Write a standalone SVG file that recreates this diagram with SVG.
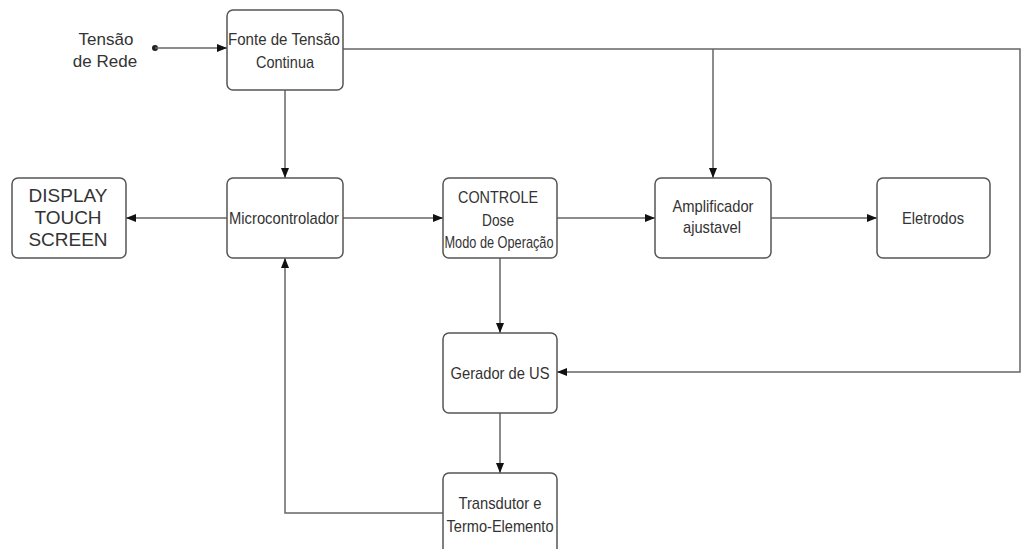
<svg xmlns="http://www.w3.org/2000/svg" width="1022" height="549" viewBox="0 0 1022 549">
<defs>
<marker id="arr" viewBox="0 0 10 10" refX="10" refY="5" markerWidth="10" markerHeight="10" markerUnits="userSpaceOnUse" orient="auto">
<path d="M0,1 L10,5 L0,9 Z" fill="#111"/>
</marker>
</defs>
<style>
.box{fill:#fff;stroke:#555;stroke-width:1.5}
.t{font-family:"Liberation Sans",Arial,sans-serif;font-size:17px;fill:#333;text-anchor:middle}
.big{font-size:19px}
.mid{font-size:17px}
.ln{fill:none;stroke:#666;stroke-width:1.5}
</style>
<rect width="1022" height="549" fill="#fff"/>
<g id="connectors">
<circle cx="155" cy="48" r="3" fill="#222"/>
<line class="ln" x1="155" y1="48" x2="227" y2="48" marker-end="url(#arr)"/>
<polyline class="ln" points="343,49 1020,49 1020,372 557,372" marker-end="url(#arr)"/>
<line class="ln" x1="713" y1="49" x2="713" y2="178" marker-end="url(#arr)"/>
<line class="ln" x1="285" y1="90" x2="285" y2="178" marker-end="url(#arr)"/>
<line class="ln" x1="227" y1="218" x2="126" y2="218" marker-end="url(#arr)"/>
<line class="ln" x1="343" y1="218" x2="443" y2="218" marker-end="url(#arr)"/>
<line class="ln" x1="557" y1="218" x2="655" y2="218" marker-end="url(#arr)"/>
<line class="ln" x1="771" y1="218" x2="877" y2="218" marker-end="url(#arr)"/>
<line class="ln" x1="500" y1="258" x2="500" y2="333" marker-end="url(#arr)"/>
<line class="ln" x1="500" y1="413" x2="500" y2="473" marker-end="url(#arr)"/>
<polyline class="ln" points="443,513 285,513 285,258" marker-end="url(#arr)"/>
</g>
<g id="tensao-rede">
<text class="t mid" x="106" y="45">Tensão</text>
<text class="t mid" x="105" y="67">de Rede</text>
</g>
<g id="fonte">
<rect class="box" x="227" y="10" width="116" height="80" rx="6"/>
<text class="t" x="284" y="45" textLength="112" lengthAdjust="spacingAndGlyphs">Fonte de Tensão</text>
<text class="t" x="285" y="68" textLength="58" lengthAdjust="spacingAndGlyphs">Continua</text>
</g>
<g id="display">
<rect class="box" x="12" y="178" width="114" height="80" rx="6"/>
<text class="t big" x="68" y="202">DISPLAY</text>
<text class="t big" x="68" y="224">TOUCH</text>
<text class="t big" x="68" y="246">SCREEN</text>
</g>
<g id="micro">
<rect class="box" x="227" y="178" width="116" height="80" rx="6"/>
<text class="t" x="284" y="224" textLength="110" lengthAdjust="spacingAndGlyphs">Microcontrolador</text>
</g>
<g id="controle">
<rect class="box" x="443" y="178" width="114" height="80" rx="6"/>
<text class="t" x="498" y="203" textLength="80" lengthAdjust="spacingAndGlyphs">CONTROLE</text>
<text class="t" x="498" y="226" textLength="32" lengthAdjust="spacingAndGlyphs">Dose</text>
<text class="t" x="499" y="248" textLength="109" lengthAdjust="spacingAndGlyphs">Modo de Operação</text>
</g>
<g id="amplificador">
<rect class="box" x="655" y="178" width="116" height="80" rx="6"/>
<text class="t" x="713" y="212" textLength="81" lengthAdjust="spacingAndGlyphs">Amplificador</text>
<text class="t" x="712" y="233" textLength="58" lengthAdjust="spacingAndGlyphs">ajustavel</text>
</g>
<g id="eletrodos">
<rect class="box" x="877" y="178" width="113" height="80" rx="6"/>
<text class="t" x="933" y="224" textLength="62" lengthAdjust="spacingAndGlyphs">Eletrodos</text>
</g>
<g id="gerador">
<rect class="box" x="443" y="333" width="114" height="80" rx="6"/>
<text class="t" x="500" y="379" textLength="99" lengthAdjust="spacingAndGlyphs">Gerador de US</text>
</g>
<g id="transdutor">
<rect class="box" x="443" y="473" width="114" height="90" rx="6"/>
<text class="t" x="500" y="509" textLength="83" lengthAdjust="spacingAndGlyphs">Transdutor e</text>
<text class="t" x="500" y="532" textLength="107" lengthAdjust="spacingAndGlyphs">Termo-Elemento</text>
</g>
</svg>
